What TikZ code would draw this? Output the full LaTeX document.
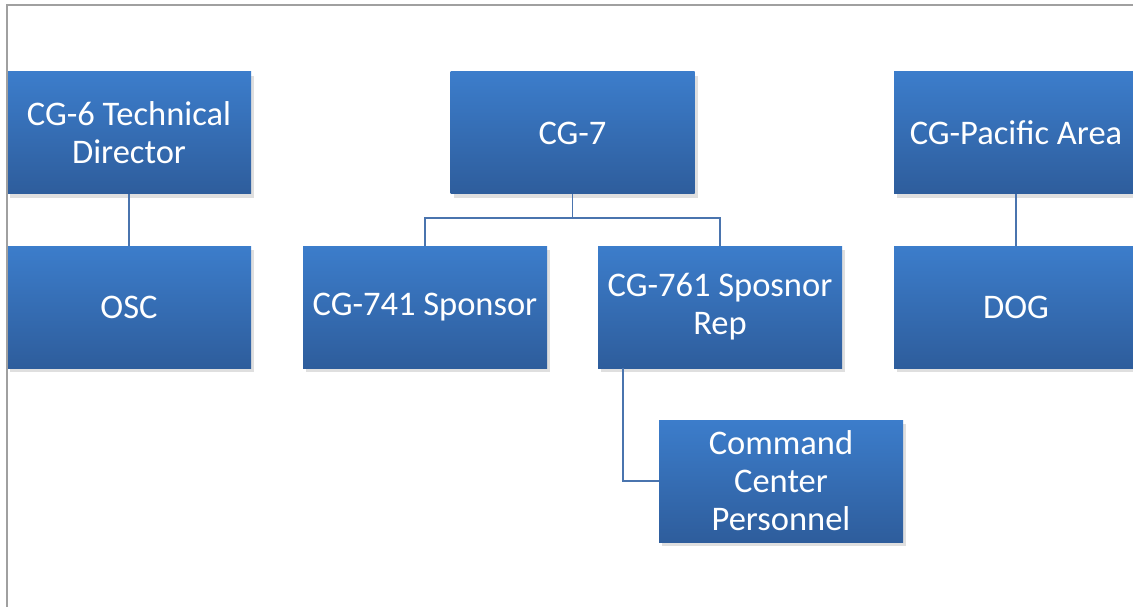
\documentclass[tikz,border=0pt]{standalone}
\usepackage{fontspec}
\setmainfont{Carlito}
\usetikzlibrary{shadows,shadings}
\definecolor{boxtop}{HTML}{3C7DCB}
\definecolor{boxbot}{HTML}{2E5D9C}
\definecolor{linkc}{HTML}{4A74AE}
\definecolor{framec}{HTML}{A0A0A0}
\tikzset{
  orgbox/.style={rectangle, minimum width=244pt, minimum height=122pt, inner sep=0pt,
    top color=boxtop, bottom color=boxbot, draw=none, text=white, align=center,
    font=\fontsize{34.5}{38}\selectfont,
    drop shadow={shadow xshift=3pt, shadow yshift=-4pt, opacity=0.25, fill=black!50}},
  link/.style={draw=linkc, line width=1.6pt}
}
\begin{document}
\begin{tikzpicture}[x=1pt,y=-1pt]
\useasboundingbox (0,0) rectangle (1133,607);
\clip (0,0) rectangle (1133,607);
\fill[white] (0,0) rectangle (1133,607);
\node[orgbox] (td) at (129,133) {CG-6 Technical\\Director};
\node[orgbox] (osc) at (129,307) {OSC};
\node[orgbox] (cg7) at (572.5,133) {CG-7};
\node[orgbox] (s741) at (425,307) {CG-741 Sponsor};
\node[orgbox] (s761) at (720,307) {CG-761 Sposnor\\Rep};
\node[orgbox] (pac) at (1016,133) {CG-Pacific Area};
\node[orgbox] (dog) at (1016,307) {DOG};
\node[orgbox] (ccp) at (781,481) {Command\\Center\\Personnel};
\draw[link] (td.south) -- (osc.north);
\draw[link] (pac.south) -- (dog.north);
\draw[link] (cg7.south) -- ++(0,24) -| (s741.north);
\draw[link] (cg7.south) -- ++(0,24) -| (s761.north);
\draw[link] ([xshift=-97pt]s761.south) |- (ccp.west);
\draw[framec, line width=1.5pt] (7,607) -- (7,5) -- (1133,5);
\end{tikzpicture}
\end{document}
